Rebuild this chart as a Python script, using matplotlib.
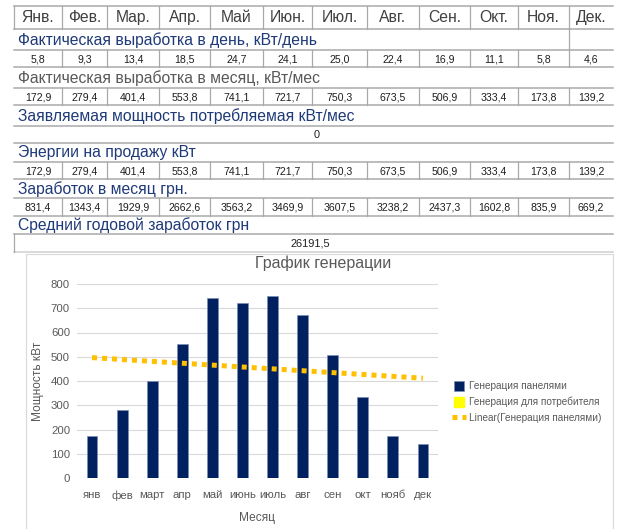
"""Таблица выработки и график генерации (повтор скриншота)."""

from __future__ import annotations

import matplotlib

matplotlib.use("Agg")

import matplotlib.pyplot as plt
import numpy as np
from matplotlib import font_manager
from matplotlib.lines import Line2D
from matplotlib.patches import Rectangle

# --- данные ---------------------------------------------------------------
months_header = ["Янв.", "Фев.", "Мар.", "Апр.", "Май", "Июн.", "Июл.",
                 "Авг.", "Сен.", "Окт.", "Ноя.", "Дек."]
months_chart = ["янв", "фев", "март", "апр", "май", "июнь", "июль",
                "авг", "сен", "окт", "нояб", "дек"]
daily_kwh = [5.8, 9.3, 13.4, 18.5, 24.7, 24.1, 25.0, 22.4, 16.9, 11.1, 5.8, 4.6]
monthly_kwh = [172.9, 279.4, 401.4, 553.8, 741.1, 721.7, 750.3, 673.5,
               506.9, 333.4, 173.8, 139.2]
declared_kwh = 0
sale_kwh = [172.9, 279.4, 401.4, 553.8, 741.1, 721.7, 750.3, 673.5,
            506.9, 333.4, 173.8, 139.2]
earnings_uah = [831.4, 1343.4, 1929.9, 2662.6, 3563.2, 3469.9, 3607.5,
                3238.2, 2437.3, 1602.8, 835.9, 669.2]
annual_earnings = "26191,5"

row_labels = [
    "Фактическая выработка в день, кВт/день",
    "Фактическая выработка в месяц, кВт/мес",
    "Заявляемая мощность потребляемая кВт/мес",
    "Энергии на продажу кВт",
    "Заработок в месяц грн.",
    "Средний годовой заработок грн",
]
series_names = ["Генерация панелями", "Генерация для потребителя",
                "Linear(Генерация панелями)"]

# --- оформление -------------------------------------------------------------
W, H = 627, 529
COL_EDGES = [14, 62, 107, 159, 210, 263, 312, 367, 419, 470, 518, 569, 613]
ROW_EDGES = [6, 28.5, 50, 67, 88, 105, 126, 143, 162, 179, 198, 216, 234, 252]
LINE_GRAY = "#a9a9a9"
BLUE_TEXT = "#1f3a78"
GRAY_TEXT = "#595959"

plt.rcParams["font.family"] = ["Liberation Sans", "DejaVu Sans"]

_installed = {f.name for f in font_manager.fontManager.ttflist}
if "Liberation Sans Narrow" in _installed:
    NUM_FONT, NUM_SIZE = "Liberation Sans Narrow", 8.9
else:
    NUM_FONT, NUM_SIZE = "Liberation Sans", 7.6


def _fmt(value: float) -> str:
    return f"{value:.1f}".replace(".", ",")


def _hline(ax: plt.Axes, y: float, color: str = LINE_GRAY) -> None:
    ax.plot([COL_EDGES[0], COL_EDGES[-1]], [y, y], color=color, lw=1.1)


def _vline(ax: plt.Axes, x: float, top: float, bottom: float) -> None:
    ax.plot([x, x], [top, bottom], color=LINE_GRAY, lw=0.9)


def _value_row(ax: plt.Axes, values: list[float], top: float, bottom: float) -> None:
    for x in COL_EDGES[1:-1]:
        _vline(ax, x, top, bottom)
    for idx, value in enumerate(values):
        cx = (COL_EDGES[idx] + COL_EDGES[idx + 1]) / 2
        ax.text(cx, (top + bottom) / 2 + 0.5, _fmt(value), ha="center",
                va="center", fontsize=NUM_SIZE, family=NUM_FONT, color="#1e1e1e")


def _label_row(ax: plt.Axes, text: str, top: float, bottom: float,
               color: str = BLUE_TEXT) -> None:
    ax.text(COL_EDGES[0] + 4, (top + bottom) / 2 + 0.5, text, ha="left",
            va="center", fontsize=11.3, color=color)


def _draw_table(ax: plt.Axes) -> None:
    ax.set_xlim(0, W)
    ax.set_ylim(H, 0)
    ax.axis("off")

    for y in ROW_EDGES[:-1]:
        _hline(ax, y)
    _hline(ax, ROW_EDGES[-1], color="#cfcfcf")

    # шапка с месяцами
    top, bottom = ROW_EDGES[0], ROW_EDGES[1]
    for x in COL_EDGES[:-1]:
        _vline(ax, x, top, bottom)
    for idx, name in enumerate(months_header):
        cx = (COL_EDGES[idx] + COL_EDGES[idx + 1]) / 2
        ax.text(cx, (top + bottom) / 2 + 0.5, name, ha="center", va="center",
                fontsize=11.3, color="#404040")

    _label_row(ax, row_labels[0], ROW_EDGES[1], ROW_EDGES[2])
    _vline(ax, COL_EDGES[-2], ROW_EDGES[1], ROW_EDGES[2])
    _value_row(ax, daily_kwh, ROW_EDGES[2], ROW_EDGES[3])

    _label_row(ax, row_labels[1], ROW_EDGES[3], ROW_EDGES[4], color=GRAY_TEXT)
    _value_row(ax, monthly_kwh, ROW_EDGES[4], ROW_EDGES[5])

    _label_row(ax, row_labels[2], ROW_EDGES[5], ROW_EDGES[6])
    mid_x = (COL_EDGES[0] + COL_EDGES[-1]) / 2
    ax.text(mid_x + 3, (ROW_EDGES[6] + ROW_EDGES[7]) / 2 + 0.5, str(declared_kwh),
            ha="center", va="center", fontsize=NUM_SIZE + 0.3, family=NUM_FONT,
            color="#1e1e1e")

    _label_row(ax, row_labels[3], ROW_EDGES[7], ROW_EDGES[8])
    _value_row(ax, sale_kwh, ROW_EDGES[8], ROW_EDGES[9])

    _label_row(ax, row_labels[4], ROW_EDGES[9], ROW_EDGES[10])
    _value_row(ax, earnings_uah, ROW_EDGES[10], ROW_EDGES[11])

    _label_row(ax, row_labels[5], ROW_EDGES[11], ROW_EDGES[12])
    _vline(ax, COL_EDGES[0], ROW_EDGES[12], ROW_EDGES[13])
    ax.text(mid_x - 3, (ROW_EDGES[12] + ROW_EDGES[13]) / 2 + 0.5, annual_earnings,
            ha="center", va="center", fontsize=NUM_SIZE + 0.3, family=NUM_FONT,
            color="#1e1e1e")

    # рамка области диаграммы
    ax.add_patch(Rectangle((26, 253.5), 587, 290, fill=False, ec="#d9d9d9", lw=0.8))


def _draw_chart(fig: plt.Figure) -> None:
    left, right, top, bottom = 77, 438, 284, 478
    ax = fig.add_axes([left / W, 1 - bottom / H, (right - left) / W, (bottom - top) / H])
    x = np.arange(len(monthly_kwh))
    ax.bar(x, monthly_kwh, width=0.36, color="#002060", edgecolor="#7c8db5",
           linewidth=0.5, zorder=2)
    slope, intercept = np.polyfit(x, monthly_kwh, 1)
    ax.plot(x, slope * x + intercept, color="#ffc000", lw=3.6,
            linestyle=(0, (1, 1)), dash_capstyle="butt", zorder=3)

    ax.set_xlim(-0.5, len(x) - 0.5)
    ax.set_ylim(0, 800)
    ax.set_yticks(range(0, 801, 100))
    ax.set_xticks(x, months_chart)
    ax.grid(axis="y", color="#d9d9d9", lw=0.8)
    ax.set_axisbelow(True)
    for spine in ax.spines.values():
        spine.set_visible(False)
    ax.tick_params(length=0, labelsize=8.2, labelcolor=GRAY_TEXT)
    ax.tick_params(axis="x", pad=9)
    ax.tick_params(axis="y", pad=5)
    ax.set_ylabel("Мощность кВт", fontsize=8.6, color=GRAY_TEXT, labelpad=5)
    ax.set_xlabel("Месяц", fontsize=8.6, color=GRAY_TEXT, labelpad=8)

    fig.text(323 / W, 1 - 263 / H, "График генерации", ha="center", va="center",
             fontsize=11.5, color=GRAY_TEXT)

    handles = [
        Line2D([], [], linestyle="none", marker="s", markersize=6.5,
               markerfacecolor="#002060", markeredgecolor="#7c8db5",
               markeredgewidth=0.5),
        Line2D([], [], linestyle="none", marker="s", markersize=6.5,
               markerfacecolor="#ffff00", markeredgecolor="#ffff00"),
        Line2D([], [], color="#ffc000", lw=3.6, linestyle=(0, (1, 1)),
               dash_capstyle="butt"),
    ]
    fig.legend(handles, series_names, loc="center left",
               bbox_to_anchor=(452 / W, 1 - 402 / H), frameon=False,
               fontsize=7.2, labelcolor=GRAY_TEXT, handlelength=1.45,
               handletextpad=0.3, labelspacing=0.55,
               borderaxespad=0, borderpad=0)


def main() -> None:
    fig = plt.figure(figsize=(W / 100, H / 100), dpi=100)
    table_ax = fig.add_axes([0, 0, 1, 1])
    _draw_table(table_ax)
    _draw_chart(fig)
    fig.savefig("out.png", dpi=100)
    plt.close(fig)


if __name__ == "__main__":
    main()
